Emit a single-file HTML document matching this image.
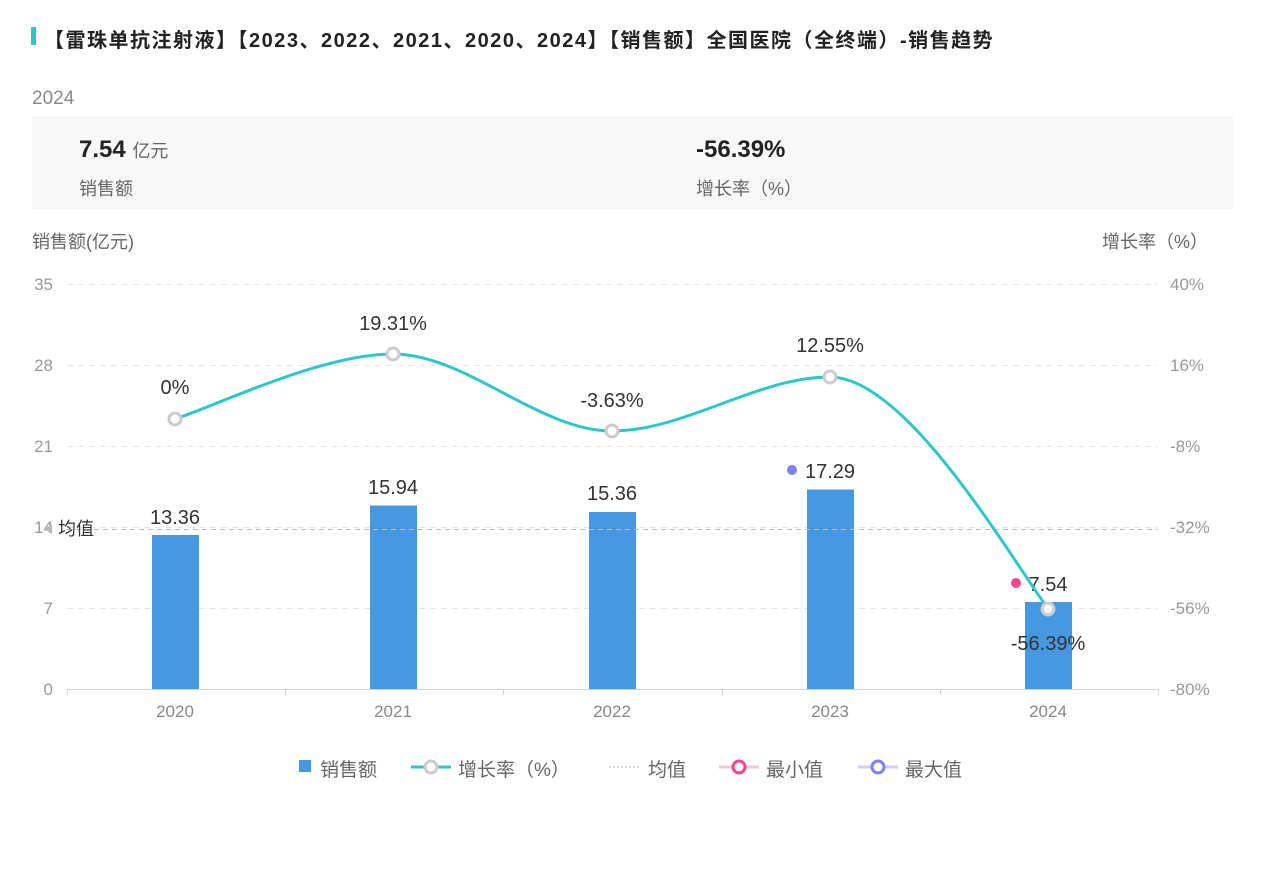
<!DOCTYPE html>
<html><head><meta charset="utf-8"><style>
body{margin:0;width:1265px;height:869px;background:#fff;font-family:"Liberation Sans","Noto Sans CJK SC",sans-serif;position:relative;overflow:hidden}
.a{position:absolute;white-space:nowrap}
</style></head><body>
<div class="a" style="left:31px;top:27px;width:5px;height:18px;background:#2ec7c9"></div>
<div class="a" style="left:44px;top:24px;font-size:20px;letter-spacing:1.5px;font-weight:bold;color:#222">【雷珠单抗注射液】【2023、2022、2021、2020、2024】【销售额】全国医院（全终端）-销售趋势</div>
<div class="a" style="left:32px;top:88px;font-size:19px;color:#888">2024</div>
<div class="a" style="left:32px;top:116px;width:1201px;height:94px;background:#f8f8f8"></div>
<div class="a" style="left:79px;top:136px;font-size:24px;font-weight:bold;color:#222">7.54 <span style="font-size:18px;font-weight:normal;color:#666">亿元</span></div>
<div class="a" style="left:79px;top:175px;font-size:18px;color:#666">销售额</div>
<div class="a" style="left:696px;top:136px;font-size:24px;font-weight:bold;color:#222">-56.39%</div>
<div class="a" style="left:696px;top:175px;font-size:18px;color:#666">增长率（%）</div>
<svg class="a" style="left:0;top:0" width="1265" height="869" font-family="Liberation Sans,Noto Sans CJK SC,sans-serif">
<text x="32" y="248" font-size="18" fill="#666">销售额(亿元)</text>
<text x="1208" y="248" font-size="18" fill="#666" text-anchor="end">增长率（%）</text>
<g stroke="#e6e6e6" stroke-dasharray="6,5">
<line x1="67" x2="1158" y1="284.5" y2="284.5"/><line x1="67" x2="1158" y1="365.5" y2="365.5"/><line x1="67" x2="1158" y1="446.5" y2="446.5"/><line x1="67" x2="1158" y1="527.5" y2="527.5"/><line x1="67" x2="1158" y1="608.5" y2="608.5"/>
</g>
<g font-size="17" fill="#999" text-anchor="end">
<text x="53" y="290">35</text><text x="53" y="371">28</text><text x="53" y="452">21</text><text x="53" y="533">14</text><text x="53" y="614">7</text><text x="53" y="695">0</text>
</g>
<g font-size="17" fill="#999">
<text x="1170" y="290">40%</text><text x="1170" y="371">16%</text><text x="1170" y="452">-8%</text><text x="1170" y="533">-32%</text><text x="1170" y="614">-56%</text><text x="1170" y="695">-80%</text>
</g>
<line x1="67" x2="1158" y1="689.5" y2="689.5" stroke="#ccd3d8"/>
<g stroke="#ccd3d8"><line x1="67.5" x2="67.5" y1="689" y2="695"/><line x1="285.5" x2="285.5" y1="689" y2="695"/><line x1="503.5" x2="503.5" y1="689" y2="695"/><line x1="722.5" x2="722.5" y1="689" y2="695"/><line x1="940.5" x2="940.5" y1="689" y2="695"/><line x1="1158.5" x2="1158.5" y1="689" y2="695"/></g>
<g font-size="17" fill="#888" text-anchor="middle">
<text x="175" y="717">2020</text><text x="393" y="717">2021</text><text x="612" y="717">2022</text><text x="830" y="717">2023</text><text x="1048" y="717">2024</text>
</g>
<g fill="#4699e0">
<rect x="152" y="535" width="47" height="154"/><rect x="370" y="505.5" width="47" height="183.5"/><rect x="589" y="512" width="47" height="177"/><rect x="807" y="489.5" width="47" height="199.5"/><rect x="1025" y="602" width="47" height="87"/>
</g>
<line x1="67" x2="1158" y1="529.5" y2="529.5" stroke="#bbb" stroke-dasharray="5,4"/>
<path d="M44 529 L52 524 L52 534Z" fill="#bbb"/>
<text x="58" y="535" font-size="18" fill="#333">均值</text>
<g font-size="20" fill="#333" text-anchor="middle">
<text x="175" y="524">13.36</text><text x="393" y="494">15.94</text><text x="612" y="500">15.36</text><text x="830" y="478">17.29</text><text x="1048" y="591">7.54</text>
<text x="175" y="394">0%</text><text x="393" y="330">19.31%</text><text x="612" y="407">-3.63%</text><text x="830" y="352">12.55%</text><text x="1048" y="650">-56.39%</text>
</g>
<circle cx="792" cy="470" r="5" fill="#7b83f0"/>
<circle cx="1016" cy="583" r="5" fill="#f0468e"/>
<path d="M175 419 C211 408 320 354 393 354 C466 354 539 431 612 431 C685 431 757 377 830 377 C903 377 1000 540 1048 609" fill="none" stroke="#2ec7c9" stroke-width="3"/>
<g fill="#fff" stroke="#ccc" stroke-width="3">
<circle cx="175" cy="419" r="6"/><circle cx="393" cy="354" r="6"/><circle cx="612" cy="431" r="6"/><circle cx="830" cy="377" r="6"/><circle cx="1048" cy="609" r="6"/>
</g>
<g font-size="19" fill="#666">
<rect x="299" y="760" width="12" height="12" fill="#4699e0"/><text x="320" y="776">销售额</text>
<line x1="411" x2="451" y1="767" y2="767" stroke="#2ec7c9" stroke-width="3"/><circle cx="431" cy="767" r="6" fill="#fff" stroke="#ccc" stroke-width="3"/><text x="458" y="776">增长率（%）</text>
<line x1="609" x2="641" y1="767" y2="767" stroke="#aaa" stroke-dasharray="2,2"/><text x="648" y="776">均值</text>
<line x1="719" x2="759" y1="767" y2="767" stroke="#f3c6d8" stroke-width="3"/><circle cx="739" cy="767" r="6" fill="#fff" stroke="#f0468e" stroke-width="3"/><text x="766" y="776">最小值</text>
<line x1="858" x2="898" y1="767" y2="767" stroke="#cdd0f6" stroke-width="3"/><circle cx="878" cy="767" r="6" fill="#fff" stroke="#7b83f0" stroke-width="3"/><text x="905" y="776">最大值</text>
</g>
</svg>
</body></html>
